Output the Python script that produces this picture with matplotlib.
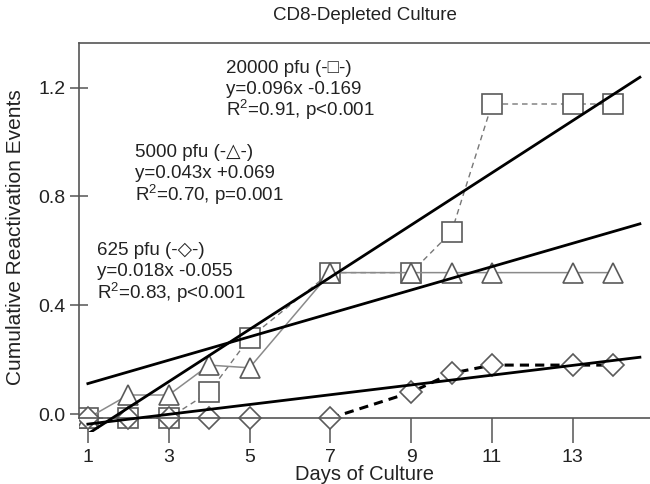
import matplotlib
matplotlib.use('Agg')
import matplotlib.pyplot as plt
import numpy as np

plt.rcParams['font.family'] = ['Liberation Sans', 'DejaVu Sans']
plt.rcParams['mathtext.fontset'] = 'custom'
plt.rcParams['mathtext.rm'] = 'Liberation Sans'
plt.rcParams['mathtext.default'] = 'regular'

# cumulative reactivation events per dose (zero points drawn just below 0)
days = [1, 2, 3, 4, 5, 7, 9, 10, 11, 13, 14]
pfu_20000 = [-0.015, -0.015, -0.015, 0.08, 0.28, 0.52, 0.52, 0.67, 1.14, 1.14, 1.14]
pfu_5000 = [-0.015, 0.07, 0.07, 0.18, 0.17, 0.52, 0.52, 0.52, 0.52, 0.52, 0.52]
pfu_625 = [-0.015, -0.015, -0.015, -0.015, -0.015, -0.015, 0.08, 0.15, 0.18, 0.18, 0.18]
# the 625 pfu connecting line only starts once events appear (day 7)
line_625_from = 5

# linear fits: slope, intercept
fit_20000 = (0.096, -0.169)
fit_5000 = (0.043, 0.069)
fit_625 = (0.018, -0.055)
fit_range = (1, 14.66)

labels_20000 = ['20000 pfu (-□-)', 'y=0.096x -0.169', 'R$^2$=0.91, p<0.001']
labels_5000 = ['5000 pfu (-△-)', 'y=0.043x +0.069', 'R$^2$=0.70, p=0.001']
labels_625 = ['625 pfu (-◇-)', 'y=0.018x -0.055', 'R$^2$=0.83, p<0.001']

fig = plt.figure(figsize=(6.5, 4.84), dpi=100)
ax = fig.add_axes([0.1215, 0.108, 0.8785, 0.803])

edge = '#5a5a5a'
mk = dict(mfc='white', mec=edge, mew=1.2)
ax.plot(days, pfu_20000, color='#777777', lw=1.0, dashes=(4, 3), marker='s', ms=14,
        zorder=2, **mk)
ax.plot(days, pfu_5000, color='#8a8a8a', lw=1.1, marker='^', ms=14, zorder=2, **mk)
ax.plot(days[line_625_from:], pfu_625[line_625_from:], color='black', lw=2.2,
        dashes=(3, 2), zorder=2)
ax.plot(days, pfu_625, ls='none', marker='D', ms=11, zorder=2.5, **mk)

xf = np.array(fit_range)
for slope, icpt in (fit_20000, fit_5000, fit_625):
    ax.plot(xf, slope * xf + icpt, color='black', lw=2.0, zorder=4)

# stacked annotation blocks
step = 0.077
for x0, y0, lines in ((4.42, 1.272, labels_20000),
                      (2.16, 0.96, labels_5000),
                      (1.22, 0.60, labels_625)):
    for i, s in enumerate(lines):
        ax.text(x0, y0 - i * step, s, fontsize=13.5, ha='left', va='center',
                color='#222222')

ax.set_xlim(0.78, 14.91)
ax.set_ylim(-0.065, 1.364)
ax.set_xticks([1, 3, 5, 7, 9, 11, 13])
ax.set_yticks([0.0, 0.4, 0.8, 1.2])
ax.set_yticklabels(['0.0', '0.4', '0.8', '1.2'])

ax.spines['right'].set_visible(False)
ax.spines['bottom'].set_position(('data', -0.015))
ax.spines['left'].set_bounds(-0.015, 1.364)
for side in ('left', 'bottom', 'top'):
    ax.spines[side].set_color('#555555')
    ax.spines[side].set_linewidth(1.2)

ax.tick_params(axis='x', direction='out', length=18, width=1.1, color='#555555',
               labelsize=14, pad=4, labelcolor='#222222')
ax.tick_params(axis='y', direction='inout', length=13, width=1.1, color='#555555',
               labelsize=14, pad=3, labelcolor='#222222')

ax.set_xlabel('Days of Culture', fontsize=14.5, color='#222222')
ax.set_ylabel('Cumulative Reactivation Events', fontsize=15, color='#222222')
ax.xaxis.set_label_coords(0.5, -0.111)
ax.xaxis.label.set_va('center')
ax.yaxis.set_label_coords(-0.112, 0.5)
ax.yaxis.label.set_va('center')

fig.text(0.561, 1 - 15 / 484, 'CD8-Depleted Culture', fontsize=13.5,
         ha='center', va='center', color='#222222')

fig.savefig('out.png', dpi=100)
